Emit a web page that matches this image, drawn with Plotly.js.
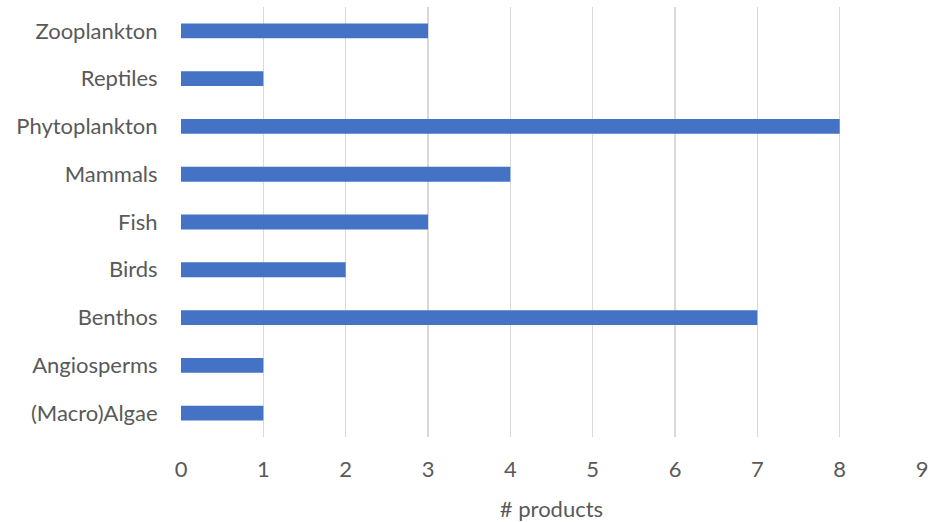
<!DOCTYPE html>
<html>
<head>
<meta charset="utf-8">
<script src="https://cdn.plot.ly/plotly-3.0.1.min.js"></script>
<style>html,body{margin:0;padding:0;background:#fff;}#chart{width:931px;height:522px;}</style>
</head>
<body>
<div id="chart"></div>
<script>
const categories = ["(Macro)Algae", "Angiosperms", "Benthos", "Birds", "Fish", "Mammals", "Phytoplankton", "Reptiles", "Zooplankton"];
const products = [1, 1, 7, 2, 3, 4, 8, 1, 3];
const xTicks = [0, 1, 2, 3, 4, 5, 6, 7, 8, 9];

const font = "Lato, 'Open Sans', sans-serif";
Plotly.newPlot("chart", [{
  type: "bar",
  orientation: "h",
  y: categories,
  x: products,
  marker: {color: "#4472C4"},
  hoverinfo: "x+y"
}], {
  width: 931, height: 522,
  margin: {l: 181, r: 9, t: 7, b: 85},
  paper_bgcolor: "#fff", plot_bgcolor: "#fff",
  bargap: 0.69,
  showlegend: false,
  font: {family: font, color: "#595959", size: 22},
  xaxis: {
    range: [0, 9], tickvals: xTicks, ticktext: xTicks.map(String),
    showgrid: true, gridcolor: "#d9d9d9", gridwidth: 1.3,
    zeroline: false, showline: false,
    ticks: "outside", ticklen: 13, tickcolor: "rgba(0,0,0,0)",
    tickfont: {size: 22, color: "#595959"},
    title: {text: "# products", font: {size: 22, color: "#595959"}, standoff: 20}
  },
  yaxis: {
    categoryorder: "array", categoryarray: categories,
    showgrid: false, zeroline: false, showline: false,
    ticks: "outside", ticklen: 18, tickcolor: "rgba(0,0,0,0)",
    tickfont: {size: 22, color: "#595959"}
  }
}, {displayModeBar: false, staticPlot: true});
</script>
</body>
</html>
